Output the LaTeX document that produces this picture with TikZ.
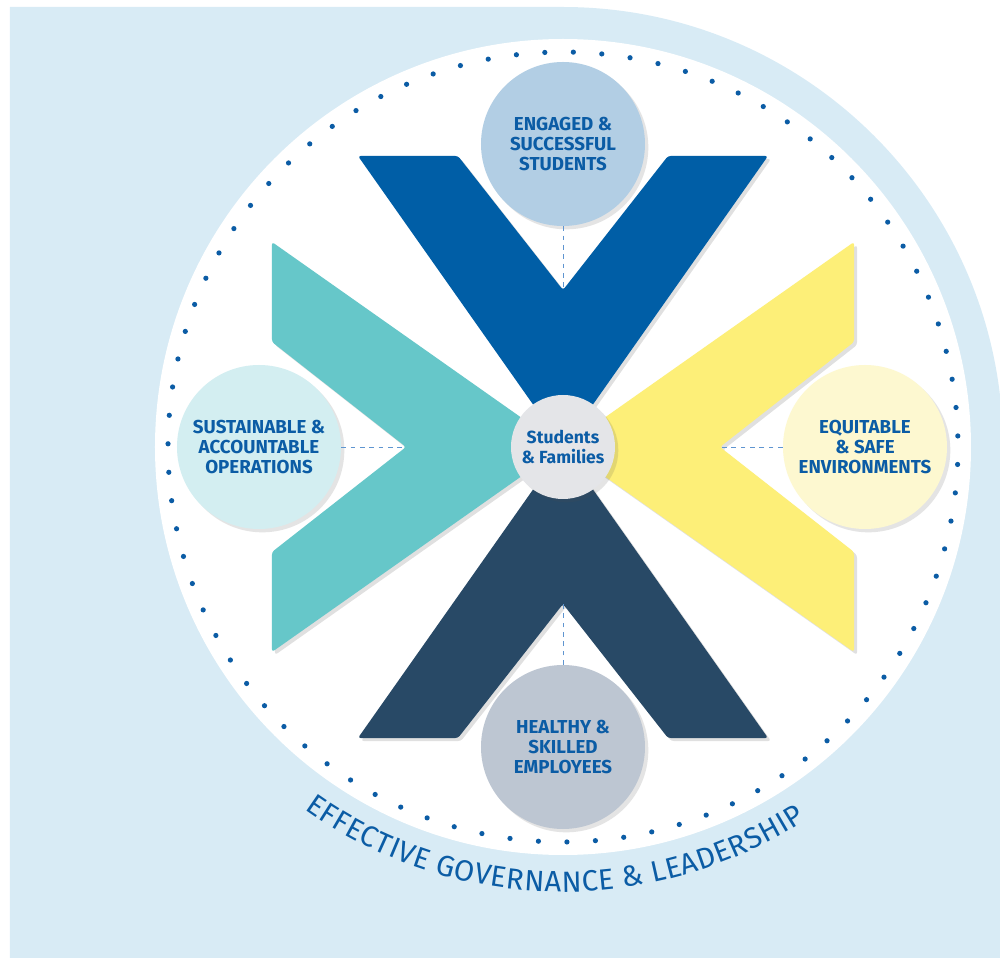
\documentclass[tikz,border=0pt]{standalone}
\usepackage{fontspec}
\newfontfamily\goalfont{Fira Sans}
\usetikzlibrary{shadows,decorations.text}
\definecolor{paleblue}{HTML}{D8EBF5}
\definecolor{dotblue}{HTML}{0B5CA5}
\definecolor{vblue}{HTML}{005EA6}
\definecolor{vteal}{HTML}{66C7C9}
\definecolor{vyellow}{HTML}{FDEF78}
\definecolor{vnavy}{HTML}{284966}
\definecolor{engagedfill}{HTML}{B2CEE4}
\definecolor{sustainfill}{HTML}{D3EEF1}
\definecolor{equitfill}{HTML}{FDF8D0}
\definecolor{healthfill}{HTML}{BDC6D2}
\definecolor{familyfill}{HTML}{E4E5E8}
\definecolor{dashblue}{HTML}{5F95D0}

\begin{document}
\begin{tikzpicture}[x=.3mm,y=.3mm,
	softshadow/.style={drop shadow={shadow xshift=1mm,shadow yshift=-1mm,opacity=.15,fill=black!70}},
	goal/.style={circle,minimum size=49.2mm,inner sep=0pt,align=center,text=dotblue,
		font=\goalfont\bfseries\fontsize{16}{17}\selectfont,softshadow},
	link/.style={dashblue,dash pattern=on 4pt off 4pt,line width=.8pt}]
	\useasboundingbox (-563,-511) rectangle (437,447);
	\fill[paleblue] (-553,-511) -- (-553,440) -- (0,440) arc[start angle=90,end angle=0,radius=440] -- (440,-511) -- cycle;
	\fill[white] (0,0) circle (408);
	\foreach \i in {0,...,86}
		\fill[dotblue] ({88.5+360/87*\i}:395) circle (2.6);

	% four chevrons, one shape turned round the middle
	\foreach \r/\c in {0/vblue,90/vteal,-90/vyellow,180/vnavy}{
		\fill[black,opacity=.12,xshift=.9mm,yshift=-.9mm,rotate=\r,rounded corners=.8mm] (0,0) -- (-205,291) -- (-105,291) -- (0,157) -- (105,291) -- (205,291) -- cycle;
		\fill[\c,rotate=\r,rounded corners=.8mm] (0,0) -- (-205,291) -- (-105,291) -- (0,157) -- (105,291) -- (205,291) -- cycle;
	}
	\coordinate (notchN) at (0,157);
	\coordinate (notchW) at (-157,0);
	\coordinate (notchE) at (157,0);
	\coordinate (notchS) at (0,-157);

	\node[goal,fill=engagedfill] (engaged) at (0,303) {ENGAGED \&\\SUCCESSFUL\\STUDENTS};
	\node[goal,fill=sustainfill] (sustainable) at (-304,0) {SUSTAINABLE \&\\ACCOUNTABLE\\OPERATIONS};
	\node[goal,fill=equitfill] (equitable) at (302,0) {EQUITABLE\\\& SAFE\\ENVIRONMENTS};
	\node[goal,fill=healthfill] (healthy) at (0,-300) {HEALTHY \&\\SKILLED\\EMPLOYEES};
	\node[circle,fill=familyfill,minimum size=31.2mm,inner sep=0pt,align=center,text=dotblue,
		font=\goalfont\bfseries\fontsize{15}{17}\selectfont,softshadow] (families) at (0,0) {Students\\\& Families};

	\draw[link] (engaged) -- (notchN);
	\draw[link] (sustainable) -- (notchW);
	\draw[link] (equitable) -- (notchE);
	\draw[link] (healthy) -- (notchS);

	\path[decorate,decoration={text along path,text align=fit to path,text color=dotblue,
		text={|\goalfont\fontsize{25}{25}\selectfont|EFFECTIVE GOVERNANCE {\&} LEADERSHIP}}]
		(234.5:445) arc[start angle=234.5,end angle=303,radius=445];
\end{tikzpicture}
\end{document}
